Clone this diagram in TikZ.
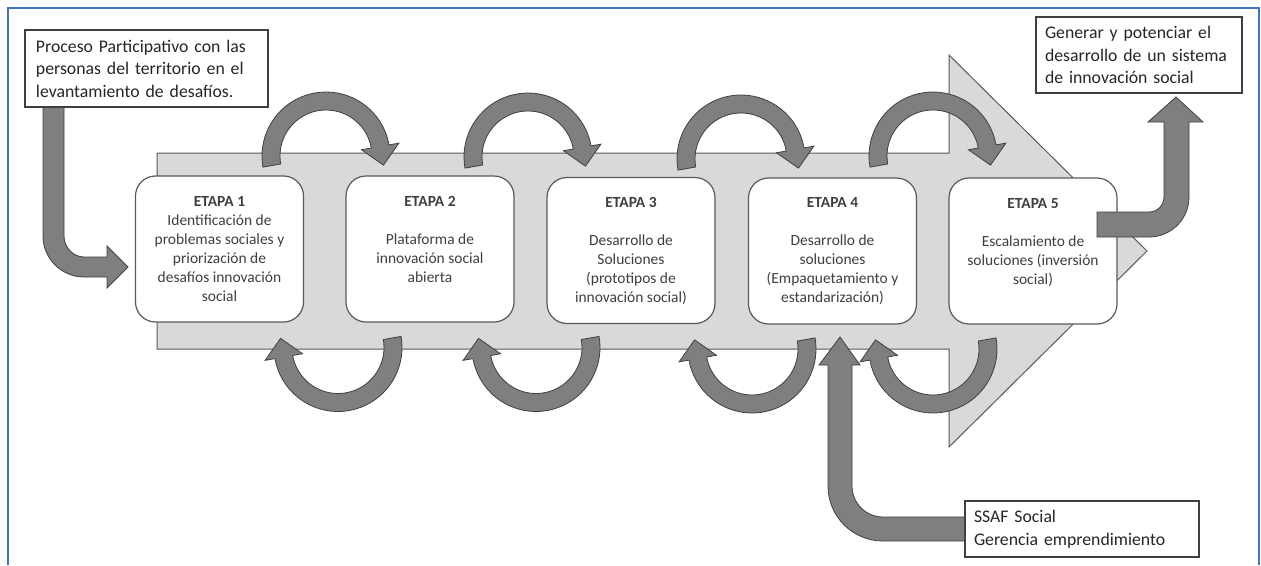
\documentclass[tikz,border=0pt]{standalone}
\usepackage{fontspec}
\setmainfont{Carlito}
\definecolor{lgray}{HTML}{D9D9D9}
\definecolor{dgray}{HTML}{7F7F7F}
\definecolor{edgec}{HTML}{404040}
\definecolor{boxedge}{HTML}{595959}
\definecolor{txtc}{HTML}{3F3F3F}
\definecolor{calltxt}{HTML}{262626}
\definecolor{framec}{HTML}{4472C4}
\tikzset{
  etapa/.style={draw=boxedge, line width=0.9pt, fill=white, rounded corners=15pt,
    minimum width=126pt, minimum height=109.5pt, inner sep=0pt, align=center,
    text=txtc, font=\fontsize{11.6}{14.25}\selectfont},
  callout/.style={draw=edgec, line width=0.9pt, fill=white, align=left,
    text=calltxt, font=\fontsize{13.3}{16.9}\selectfont, inner ysep=0pt},
  darrow/.style={fill=dgray, draw=edgec, line width=0.6pt, line join=miter},
  bigarrow/.style={fill=lgray, draw=boxedge, line width=0.75pt},
}
% circular block arrow: centre (#1,#2), from angle #3 to angle #4
\newcommand{\circarr}[4]{%
  \filldraw[darrow] plot[domain=#3:#4,samples=40] ({#1+64*cos(\x)},{#2+64*sin(\x)})
    -- ({#1+74*cos(#4)},{#2+74*sin(#4)})
    -- ({#1+55*cos(#4)-19*sin(#4)},{#2+55*sin(#4)+19*cos(#4)})
    -- ({#1+36*cos(#4)},{#2+36*sin(#4)})
    -- plot[domain=#4:#3,samples=40] ({#1+46*cos(\x)},{#2+46*sin(\x)}) -- cycle;}
\begin{document}
\begin{tikzpicture}[x=0.75pt,y=-0.75pt]
\useasboundingbox (0,0) rectangle (1261,565);
% frame
\draw[framec, line width=1.5pt] (8,565) -- (8,8) -- (1259,8) -- (1259,565);
% big process arrow
\filldraw[bigarrow] (157,153) -- (949,153) -- (949,55) -- (1147,251) -- (949,447)
  -- (949,349) -- (157,349) -- cycle;
% stages
\node[etapa] (e1) at (219.5,249) {\textbf{ETAPA 1}\\Identificación de\\problemas sociales y\\priorización de\\desafíos innovación\\social};
\node[etapa] (e2) at (430,249) {\textbf{ETAPA 2}\\~\\Plataforma de\\innovación social\\abierta\\~};
\node[etapa] (e3) at (631,250.5) {\textbf{ETAPA 3}\\~\\Desarrollo de\\Soluciones\\(prototipos de\\innovación social)};
\node[etapa] (e4) at (832.5,251) {\textbf{ETAPA 4}\\~\\Desarrollo de\\soluciones\\(Empaquetamiento y\\estandarización)};
\node[etapa] (e5) at (1033,251) {\textbf{ETAPA 5}\\~\\Escalamiento de\\soluciones (inversión\\social)\\~};
% circular arrows, top
\circarr{326}{156}{170}{350}
\circarr{528}{157}{170}{350}
\circarr{741}{159}{170}{350}
\circarr{933}{156}{170}{350}
% circular arrows, bottom
\circarr{338}{347.5}{-10}{170}
\circarr{536}{347.5}{-10}{170}
\circarr{752}{349}{-10}{170}
\circarr{933}{349}{-10}{170}
% bent arrow from the participatory process
\filldraw[darrow] (43,100) -- (43,236) .. controls (43,258.6) and (61.4,277) .. (84,277)
  -- (107,277) -- (107,288) -- (128,267) -- (107,246) -- (107,257) -- (84,257)
  .. controls (73,257) and (64,247) .. (64,236) -- (64,100) -- cycle;
% bent arrow to the goal
\filldraw[darrow] (1097,212) -- (1149,212) .. controls (1157.3,212) and (1164,205.3) .. (1164,197)
  -- (1164,122) -- (1148,122) -- (1176,97) -- (1203,122) -- (1189,122) -- (1189,197)
  .. controls (1189,219.1) and (1171.1,237) .. (1149,237) -- (1097,237) -- cycle;
% bent arrow from SSAF
\filldraw[darrow] (965,517) -- (883,517) .. controls (865.9,517) and (852,503.1) .. (852,486)
  -- (852,365) -- (860,365) -- (840,337) -- (819,365) -- (828,365) -- (828,486)
  .. controls (828,516.4) and (852.6,541) .. (883,541) -- (965,541) -- cycle;
% callout boxes
\node[callout, text width=165.75pt, inner xsep=8.25pt, minimum height=57.75pt] (src) at (146.5,68.5)
  {Proceso Participativo con las\\personas del territorio en el\\levantamiento de desafíos.};
\node[callout, text width=141pt, inner xsep=6.75pt, minimum height=57pt] (goal) at (1139,55)
  {Generar y potenciar el\\\mbox{desarrollo de un sistema}\\de innovación social};
\node[callout, text width=162pt, inner xsep=6.75pt, minimum height=42pt] (ssaf) at (1082,529)
  {SSAF Social\\Gerencia emprendimiento};
\end{tikzpicture}
\end{document}
